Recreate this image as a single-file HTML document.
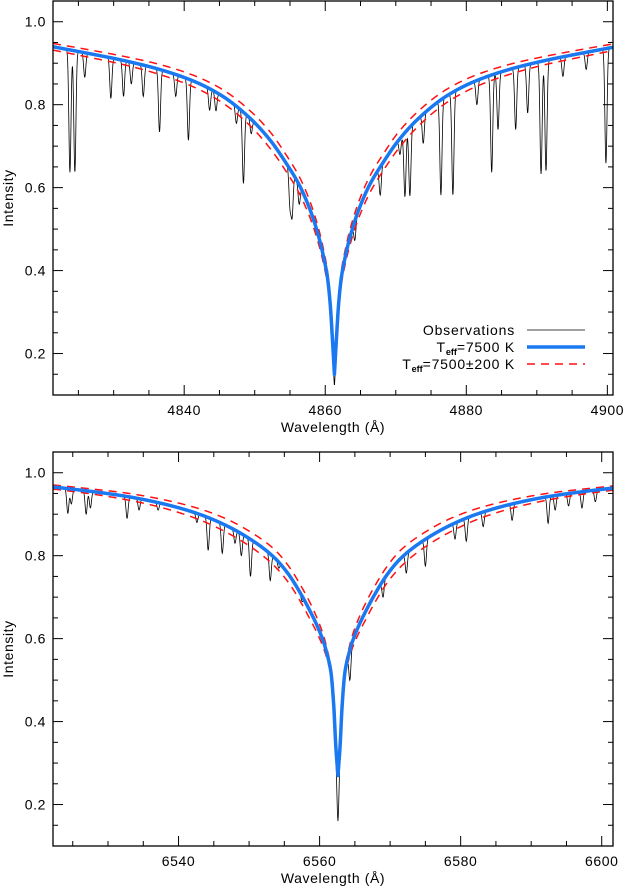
<!DOCTYPE html>
<html><head><meta charset="utf-8"><style>
html,body{margin:0;padding:0;background:#fff}
svg{display:block;font-family:"Liberation Sans",sans-serif}
</style></head><body>
<svg id="fig" width="624" height="890" viewBox="0 0 624 890" xmlns="http://www.w3.org/2000/svg"></svg>
<script>
// ===== Data =====
const profileOffsets = [0, 0.3, 0.6, 1, 1.5, 2, 3, 4, 5, 7, 9, 12, 16, 20, 25, 30, 35, 40];
// H-beta panel
const hbCenter = 4861.3;
const hbBlue = [0.15, 0.24, 0.32, 0.385, 0.43, 0.467, 0.525, 0.57, 0.607, 0.663, 0.712, 0.768, 0.822, 0.857, 0.886, 0.907, 0.924, 0.94];
const hbHot  = [0.15, 0.23, 0.305, 0.369, 0.413, 0.449, 0.506, 0.55, 0.587, 0.643, 0.692, 0.75, 0.806, 0.843, 0.874, 0.897, 0.915, 0.932];
const hbCool = [0.15, 0.25, 0.335, 0.401, 0.447, 0.485, 0.544, 0.59, 0.627, 0.683, 0.732, 0.786, 0.838, 0.871, 0.898, 0.917, 0.933, 0.948];
const hbLineWl  = [4823.8, 4824.5, 4825.9, 4829.6, 4831.4, 4832.5, 4834.2, 4836.5, 4838.8, 4840.6, 4843.6, 4844.5, 4847.4, 4848.4, 4849.5, 4855.0, 4855.3, 4856.3, 4861.3, 4864.2, 4867.8, 4870.6, 4871.3, 4872.0, 4873.9, 4876.4, 4878.1, 4881.5, 4883.6, 4884.5, 4887.0, 4888.7, 4890.6, 4891.3, 4893.7, 4897.0, 4899.8];
const hbLineMin = [0.637, 0.637, 0.866, 0.815, 0.82, 0.85, 0.82, 0.734, 0.82, 0.714, 0.787, 0.785, 0.755, 0.61, 0.73, 0.558, 0.535, 0.56, 0.12, 0.473, 0.582, 0.68, 0.578, 0.58, 0.707, 0.582, 0.582, 0.80, 0.637, 0.74, 0.74, 0.78, 0.633, 0.64, 0.868, 0.885, 0.659];
// H-alpha panel
const haCenter = 6562.6;
const haBlue = [0.27, 0.34, 0.44, 0.52, 0.56, 0.59, 0.633, 0.668, 0.70, 0.755, 0.795, 0.835, 0.874, 0.902, 0.926, 0.943, 0.955, 0.965];
const haHot  = [0.27, 0.34, 0.43, 0.51, 0.548, 0.575, 0.615, 0.648, 0.68, 0.735, 0.775, 0.817, 0.858, 0.889, 0.916, 0.935, 0.949, 0.96];
const haCool = [0.27, 0.34, 0.45, 0.53, 0.572, 0.605, 0.651, 0.688, 0.72, 0.775, 0.815, 0.853, 0.89, 0.915, 0.936, 0.951, 0.961, 0.97];
const haLineWl  = [6524.3, 6524.8, 6526.9, 6527.5, 6532.7, 6534.4, 6537.1, 6542.6, 6544.2, 6546.2, 6548.0, 6548.9, 6550.2, 6553.0, 6554.2, 6557.5, 6558.4, 6562.6, 6564.3, 6569.0, 6572.3, 6575.0, 6579.2, 6580.8, 6583.2, 6587.3, 6592.4, 6593.4, 6595.3, 6597.2, 6599.1];
const haLineMin = [0.902, 0.925, 0.90, 0.915, 0.89, 0.91, 0.91, 0.88, 0.813, 0.806, 0.83, 0.80, 0.75, 0.74, 0.77, 0.69, 0.67, 0.16, 0.50, 0.70, 0.758, 0.775, 0.84, 0.835, 0.87, 0.885, 0.878, 0.91, 0.92, 0.915, 0.93];
const yTicks = [0.2, 0.4, 0.6, 0.8, 1.0];
const hbXTicks = [4840, 4860, 4880, 4900];
const haXTicks = [6540, 6560, 6580, 6600];

// ===== Drawing =====
const NS = "http://www.w3.org/2000/svg";
const svg = document.getElementById('fig');
function mk(tag, attrs, parent) {
  const e = document.createElementNS(NS, tag);
  for (const k in attrs) e.setAttribute(k, attrs[k]);
  (parent || svg).appendChild(e);
  return e;
}
function makeInterp(xs, ys) {
  const n = xs.length, d = [], m = new Array(n);
  for (let i = 0; i < n - 1; i++) d.push((ys[i + 1] - ys[i]) / (xs[i + 1] - xs[i]));
  m[0] = d[0]; m[n - 1] = d[n - 2];
  for (let i = 1; i < n - 1; i++) {
    if (d[i - 1] * d[i] <= 0) m[i] = 0;
    else { const w1 = 2 * (xs[i+1]-xs[i]) + (xs[i]-xs[i-1]), w2 = (xs[i+1]-xs[i]) + 2 * (xs[i]-xs[i-1]);
      m[i] = (w1 + w2) / (w1 / d[i - 1] + w2 / d[i]); }
  }
  return function (x) {
    if (x >= xs[n - 1]) return ys[n - 1];
    let i = 0; while (x > xs[i + 1]) i++;
    const h = xs[i + 1] - xs[i], t = (x - xs[i]) / h;
    const h00 = 2*t*t*t - 3*t*t + 1, h10 = t*t*t - 2*t*t + t, h01 = -2*t*t*t + 3*t*t, h11 = t*t*t - t*t;
    return h00 * ys[i] + h10 * h * m[i] + h01 * ys[i + 1] + h11 * h * m[i + 1];
  };
}
function panel(name, top, xmin, xmax, center, blue, hot, cool, lw, lmin, xticks, legend) {
  const L = 53, R = 613, T = top, B = top + 394;
  const ymin = 0.1, ymax = 1.05;
  const xs = v => L + (v - xmin) / (xmax - xmin) * (R - L);
  const ys = v => B - (v - ymin) / (ymax - ymin) * (B - T);
  const fb = makeInterp(profileOffsets, blue), fh = makeInterp(profileOffsets, hot), fc = makeInterp(profileOffsets, cool);
  const g = mk('g', {});
  
  
  const clipId = name + '-clip';
  const cp = mk('clipPath', {id: clipId}, g);
  mk('rect', {x: L, y: T, width: R - L, height: B - T}, cp);
  const plot = mk('g', {'clip-path': 'url(#' + clipId + ')'}, g);

  let d = '';
  for (let w = xmin; w <= xmax; w += 0.04) {
    let v = fb(Math.abs(w - center));
    for (let i = 0; i < lw.length; i++) {
      const b0 = fb(Math.abs(lw[i] - center));
      const depth = Math.max(0, 1 - lmin[i] / b0);
      const s = 0.15;
      v *= 1 - depth * Math.exp(-0.5 * Math.pow((w - lw[i]) / s, 2));
    }
    d += (d ? 'L' : 'M') + xs(w).toFixed(2) + ',' + ys(v).toFixed(2);
  }
  const obs = mk('path', {d: d, fill: 'none', stroke: '#000', 'stroke-width': 0.8}, plot);
  
  

  function modelPath(f) {
    let p = '';
    for (let w = xmin; w <= xmax; w += 0.05) {
      p += (p ? 'L' : 'M') + xs(w).toFixed(2) + ',' + ys(f(Math.abs(w - center))).toFixed(2);
    }
    return p;
  }
  const ph = mk('path', {d: modelPath(fh), fill: 'none', stroke: '#ff1010', 'stroke-width': 1.5, 'stroke-dasharray': '8,6'}, plot);
  
  
  const pc = mk('path', {d: modelPath(fc), fill: 'none', stroke: '#ff1010', 'stroke-width': 1.5, 'stroke-dasharray': '8,6'}, plot);
  
  
  const pb = mk('path', {d: modelPath(fb), fill: 'none', stroke: '#1a78f0', 'stroke-width': 3.5, 'stroke-linejoin': 'round'}, plot);
  
  

  const fr = mk('rect', {x: L, y: T, width: R - L, height: B - T, fill: 'none', stroke: '#000', 'stroke-width': 1.3}, g);
  
  

  const x0 = Math.ceil(xmin / 5) * 5;
  for (let v = x0; v <= xmax; v += 5) {
    const major = v % 20 === 0;
    const len = major ? 10 : 5;
    const x = xs(v);
    mk('line', {x1: x, y1: B, x2: x, y2: B - len, stroke: '#000', 'stroke-width': 1}, g);
    mk('line', {x1: x, y1: T, x2: x, y2: T + len, stroke: '#000', 'stroke-width': 1}, g);
  }
  xticks.forEach(v => {
    const t = mk('text', {x: xs(v), y: B + 20, 'text-anchor': 'middle', 'font-size': 14, 'letter-spacing': 0.6}, g);
    t.textContent = v;
    
    
  });
  for (let k = 2; k <= 21; k++) {
    const v = k * 0.05;
    const major = k % 4 === 0;
    const len = major ? 10 : 5;
    const y = ys(v);
    mk('line', {x1: L, y1: y, x2: L + len, y2: y, stroke: '#000', 'stroke-width': 1}, g);
    mk('line', {x1: R, y1: y, x2: R - len, y2: y, stroke: '#000', 'stroke-width': 1}, g);
  }
  yTicks.forEach(v => {
    const t = mk('text', {x: 46, y: ys(v) + 5, 'text-anchor': 'end', 'font-size': 14, 'letter-spacing': 0.6}, g);
    t.textContent = v.toFixed(1);
    
    
  });
  const xl = mk('text', {x: (L + R) / 2, y: B + 37, 'text-anchor': 'middle', 'font-size': 14, 'letter-spacing': 0.6}, g);
  xl.textContent = 'Wavelength (Å)';
  
  
  const yl = mk('text', {x: 0, y: 0, 'text-anchor': 'middle', 'font-size': 14, 'letter-spacing': 0.6, transform: 'translate(13,' + ((T + B) / 2) + ') rotate(-90)'}, g);
  yl.textContent = 'Intensity';
  
  

  if (legend) {
    const lg = mk('g', {}, g);
    
    
    const tx = 515, lx1 = 527, lx2 = 585;
    const rows = [330, 347, 364];
    const t1 = mk('text', {x: tx, y: rows[0] + 5, 'text-anchor': 'end', 'font-size': 14, 'letter-spacing': 0.8}, lg);
    t1.textContent = 'Observations';
    
    
    mk('line', {x1: lx1, y1: rows[0], x2: lx2, y2: rows[0], stroke: '#000', 'stroke-width': 0.8}, lg);
    const t2 = mk('text', {x: tx, y: rows[1] + 5, 'text-anchor': 'end', 'font-size': 14, 'letter-spacing': 0.8}, lg);
    t2.innerHTML = 'T<tspan font-size="9" font-weight="bold" dy="3" letter-spacing="0">eff</tspan><tspan dy="-3">=7500  K</tspan>';
    t2.setAttribute('xml:space', 'preserve');
    
    
    mk('line', {x1: lx1, y1: rows[1], x2: lx2, y2: rows[1], stroke: '#1a78f0', 'stroke-width': 3.5}, lg);
    const t3 = mk('text', {x: tx, y: rows[2] + 5, 'text-anchor': 'end', 'font-size': 14, 'letter-spacing': 0.8}, lg);
    t3.innerHTML = 'T<tspan font-size="9" font-weight="bold" dy="3" letter-spacing="0">eff</tspan><tspan dy="-3">=7500±200  K</tspan>';
    t3.setAttribute('xml:space', 'preserve');
    
    
    mk('line', {x1: lx1, y1: rows[2], x2: lx2, y2: rows[2], stroke: '#ff1010', 'stroke-width': 1.5, 'stroke-dasharray': '8,6'}, lg);
  }
}
panel('hbeta', 1, 4821.4, 4900.8, hbCenter, hbBlue, hbHot, hbCool, hbLineWl, hbLineMin, hbXTicks, true);
panel('halpha', 452, 6522.2, 6601.6, haCenter, haBlue, haHot, haCool, haLineWl, haLineMin, haXTicks, false);
</script>
</body></html>
